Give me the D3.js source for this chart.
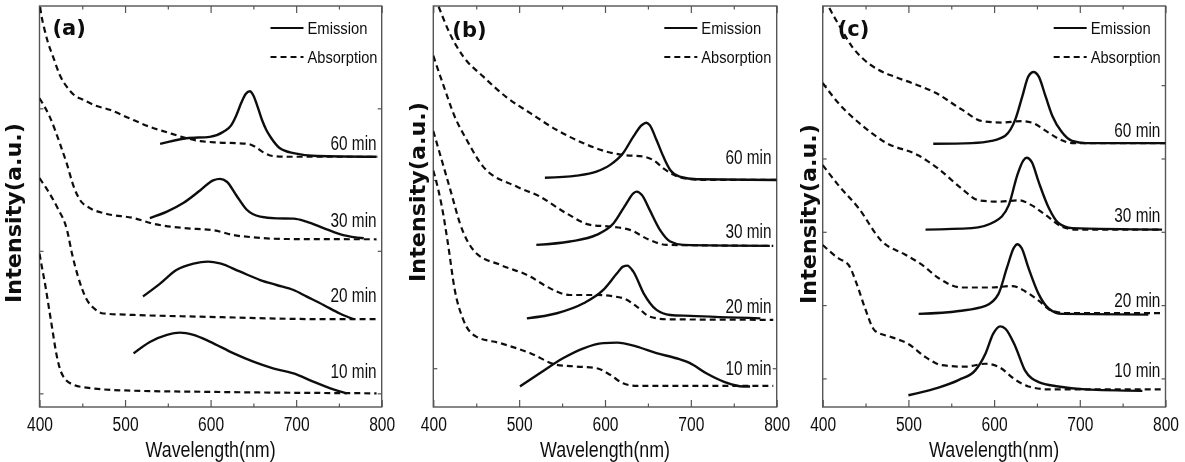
<!DOCTYPE html>
<html>
<head>
<meta charset="utf-8">
<script src="https://cdn.jsdelivr.net/npm/d3@7"></script>
<style>
  body { margin: 0; background: #fff; }
  svg { display: block; }
</style>
</head>
<body>
<div id="chart"></div>
<script>
'use strict';

// ---- data: [wavelength (nm), intensity (a.u.)] ----
const xTicks = [400, 500, 600, 700, 800];
const xMinorTicks = [450, 550, 650, 750];
const panelLetters = ['(a)', '(b)', '(c)'];
const timeLabels = ['10 min', '20 min', '30 min', '60 min'];
const legendLabels = ['Emission', 'Absorption'];

// panel (a)
const aYTicks = [0, 1, 2];
const aAbs10 = [[400,0.98],[403,0.88],[407,0.75],[411,0.60],[415,0.45],[419,0.30],[424,0.17],[430,0.10],[440,0.06],[455,0.04],[500,0.02],[600,0.01],[794,0]];
const aEm10 = [[510,0.28],[529,0.36],[549,0.41],[564,0.426],[580,0.41],[599,0.363],[627,0.28],[650,0.222],[673,0.175],[697,0.14],[720,0.082],[740,0.035],[759,0.0]];
const aAbs20 = [[400,1.51],[412,1.40],[422,1.29],[432,1.15],[438,0.98],[445,0.82],[455,0.66],[463,0.60],[475,0.56],[510,0.55],[588,0.538],[743,0.52],[794,0.52]];
const aEm20 = [[521,0.68],[541,0.77],[560,0.865],[580,0.91],[597,0.924],[611,0.912],[634,0.855],[658,0.795],[677,0.76],[697,0.725],[712,0.68],[732,0.62],[751,0.56],[767,0.52]];
const aAbs30 = [[400,2.07],[412,1.94],[424,1.75],[432,1.61],[440,1.45],[447,1.36],[459,1.30],[478,1.26],[510,1.23],[533,1.19],[568,1.16],[603,1.145],[627,1.11],[650,1.095],[685,1.083],[794,1.081]];
const aEm30 = [[529,1.23],[549,1.275],[568,1.335],[588,1.425],[603,1.495],[611,1.505],[619,1.485],[630,1.39],[642,1.29],[658,1.24],[677,1.228],[697,1.226],[712,1.205],[732,1.16],[755,1.11],[779,1.088]];
const aAbs60 = [[398,2.85],[402,2.66],[406,2.55],[410,2.46],[416,2.36],[424,2.23],[432,2.15],[441,2.09],[451,2.06],[465,2.02],[482,1.99],[505,1.93],[529,1.87],[550,1.83],[566,1.80],[588,1.77],[610,1.76],[630,1.755],[644,1.75],[652,1.73],[662,1.69],[673,1.665],[690,1.66],[720,1.66],[795,1.66]];
const aEm60 = [[541,1.75],[572,1.79],[599,1.80],[615,1.835],[624,1.88],[630,1.95],[636,2.04],[641,2.10],[646,2.12],[650,2.09],[655,2.01],[660,1.92],[665,1.85],[671,1.79],[681,1.72],[697,1.685],[724,1.665],[794,1.66]];
const aLabelY = [0.107, 0.64, 1.165, 1.71];

// panel (b)
const bYTicks = [0, 1];
const bAbs10 = [[400,1.05],[403,1.0],[410,0.858],[417,0.664],[425,0.416],[435,0.257],[450,0.168],[478,0.133],[513,0.08],[544,0.018],[567,0.009],[590,0.0],[606,-0.035],[621,-0.08],[637,-0.094],[796,-0.094]];
const bEm10 = [[501,-0.097],[524,-0.027],[551,0.053],[575,0.106],[598,0.133],[614,0.136],[637,0.115],[660,0.08],[683,0.053],[699,0.027],[718,-0.027],[738,-0.071],[761,-0.097],[769,-0.097]];
const bAbs20 = [[400,1.26],[412,1.071],[421,0.929],[431,0.77],[450,0.611],[478,0.549],[513,0.487],[532,0.434],[559,0.389],[590,0.389],[621,0.372],[637,0.327],[652,0.274],[672,0.26],[796,0.257]];
const bEm20 = [[509,0.265],[544,0.292],[575,0.345],[598,0.416],[614,0.504],[621,0.54],[626,0.545],[633,0.513],[645,0.398],[660,0.31],[676,0.283],[699,0.278],[781,0.265]];
const bAbs30 = [[400,1.66],[412,1.50],[425,1.336],[439,1.212],[458,1.071],[497,0.965],[524,0.912],[555,0.823],[583,0.761],[606,0.752],[629,0.735],[652,0.681],[672,0.655],[796,0.65]];
const bEm30 = [[520,0.655],[559,0.673],[590,0.708],[610,0.77],[625,0.876],[633,0.929],[637,0.938],[643,0.92],[652,0.841],[664,0.735],[676,0.673],[691,0.655],[792,0.65]];
const bAbs60 = [[398,2.02],[408,1.90],[419,1.78],[435,1.655],[458,1.55],[485,1.44],[513,1.355],[544,1.265],[575,1.195],[602,1.15],[621,1.133],[645,1.124],[656,1.106],[668,1.062],[680,1.027],[699,1.004],[720,1.0],[800,1.0]];
const bEm60 = [[530,1.012],[567,1.023],[590,1.044],[606,1.08],[621,1.142],[633,1.23],[643,1.292],[648,1.304],[652,1.292],[660,1.212],[668,1.124],[676,1.053],[687,1.018],[707,1.004],[800,1.0]];
const bLabelY = [-0.036, 0.294, 0.693, 1.083];

// panel (c)
const cYTicks = [0, 1, 2, 3, 4];
const cAbs10 = [[400,1.82],[418,1.64],[430,1.55],[440,1.28],[449,0.97],[461,0.65],[481,0.56],[500,0.47],[520,0.29],[539,0.18],[566,0.16],[590,0.2],[605,0.16],[625,-0.02],[640,-0.11],[664,-0.15],[796,-0.15]];
const cEm10 = [[500,-0.23],[531,-0.14],[559,-0.02],[578,0.11],[590,0.34],[599,0.61],[607,0.71],[613,0.68],[625,0.43],[636,0.11],[652,-0.05],[675,-0.11],[707,-0.15],[773,-0.17]];
const cAbs20 = [[400,2.91],[418,2.64],[442,2.32],[469,1.87],[496,1.69],[516,1.55],[535,1.37],[562,1.24],[597,1.24],[621,1.26],[636,1.19],[652,1.06],[668,0.92],[687,0.89],[796,0.89]];
const cEm20 = [[512,0.88],[559,0.92],[590,0.99],[605,1.15],[615,1.51],[623,1.78],[627,1.83],[632,1.78],[640,1.51],[652,1.15],[664,0.95],[679,0.88],[780,0.87]];
const cAbs30 = [[400,4.03],[418,3.76],[446,3.45],[473,3.22],[512,3.04],[535,2.86],[562,2.59],[582,2.43],[605,2.41],[629,2.43],[644,2.36],[660,2.23],[679,2.07],[695,2.03],[796,2.03]];
const cEm30 = [[520,2.03],[574,2.05],[601,2.14],[617,2.36],[627,2.77],[634,2.97],[638,3.01],[644,2.95],[652,2.68],[664,2.32],[675,2.12],[691,2.05],[796,2.03]];
const cAbs60 = [[398,5.3],[407,5.07],[420,4.80],[434,4.53],[448,4.35],[465,4.21],[485,4.11],[504,4.03],[531,3.9],[562,3.67],[586,3.51],[609,3.49],[632,3.51],[644,3.49],[660,3.38],[675,3.27],[691,3.21],[800,3.21]];
const cEm60 = [[529,3.2],[574,3.21],[597,3.24],[613,3.31],[625,3.54],[633,3.85],[640,4.12],[646,4.18],[652,4.12],[660,3.85],[668,3.58],[679,3.36],[691,3.24],[707,3.21],[800,3.21]];
const cLabelY = [0.018, 0.97, 2.13, 3.29];

// ---- layout ----
const W = 1185, H = 462,
    frameTop = 6, frameBottom = 407,
    condensed = '"Liberation Sans", Arial, sans-serif',
    boldFont = '"DejaVu Sans", Verdana, sans-serif',
    ink = '#111';

const panels = [
    { xRange: [39.5, 381.7], yDomain: [-0.096, 2.718], yTicks: aYTicks,
      abs: [aAbs10, aAbs20, aAbs30, aAbs60], em: [aEm10, aEm20, aEm30, aEm60], labelY: aLabelY,
      letterDx: 13, letterY: 35, titleDx: -18.5, titleY: 213 },
    { xRange: [433.3, 776.7], yDomain: [-0.206, 1.924], yTicks: bYTicks,
      abs: [bAbs10, bAbs20, bAbs30, bAbs60], em: [bEm10, bEm20, bEm30, bEm60], labelY: bLabelY,
      letterDx: 19, letterY: 37, titleDx: -8.5, titleY: 192 },
    { xRange: [822.7, 1165.5], yDomain: [-0.39, 5.08], yTicks: cYTicks,
      abs: [cAbs10, cAbs20, cAbs30, cAbs60], em: [cEm10, cEm20, cEm30, cEm60], labelY: cLabelY,
      letterDx: 15, letterY: 36, titleDx: -7, titleY: 214 }
];

const svg = d3.select('#chart').append('svg')
    .attr('width', W)
    .attr('height', H);

const defs = svg.append('defs');
defs.append('filter')
    .attr('id', 'soft')
    .attr('filterUnits', 'userSpaceOnUse')
    .attr('x', 0).attr('y', 0).attr('width', W).attr('height', H)
    .append('feGaussianBlur')
    .attr('stdDeviation', 0.45);

const root = svg.append('g').attr('filter', 'url(#soft)');

function innerTicks (axis, values, size) {
    return axis.tickValues(values).tickSizeInner(-size).tickSizeOuter(0).tickFormat('');
}

function stripDomain (g) {
    g.select('.domain').remove();
    g.selectAll('.tick line').attr('stroke', '#555').attr('stroke-width', 1.2);
}

panels.forEach(function (p, i) {
    var x = d3.scaleLinear().domain([400, 800]).range(p.xRange),
        y = d3.scaleLinear().domain(p.yDomain).range([frameBottom, frameTop]),
        left = p.xRange[0],
        right = p.xRange[1],
        g = root.append('g').attr('class', 'panel');

    defs.append('clipPath')
        .attr('id', 'clip' + i)
        .append('rect')
        .attr('x', left)
        .attr('y', frameTop)
        .attr('width', right - left)
        .attr('height', frameBottom - frameTop);

    // ticks on all four sides, pointing inwards
    g.append('g')
        .attr('transform', 'translate(0,' + frameBottom + ')')
        .call(d3.axisBottom(x).tickValues(xTicks).tickSizeInner(-7).tickSizeOuter(0)
            .tickPadding(10).tickFormat(d3.format('d')))
        .call(stripDomain)
        .call(function (a) {
            a.selectAll('text')
                .attr('fill', ink)
                .attr('font-family', condensed)
                .attr('font-size', 20)
                .attr('textLength', 26)
                .attr('lengthAdjust', 'spacingAndGlyphs');
        })
        .attr('font-size', null)
        .attr('font-family', null);

    g.append('g')
        .attr('transform', 'translate(0,' + frameBottom + ')')
        .call(innerTicks(d3.axisBottom(x), xMinorTicks, 3.5))
        .call(stripDomain);

    g.append('g')
        .attr('transform', 'translate(0,' + frameTop + ')')
        .call(innerTicks(d3.axisTop(x), xTicks, 7))
        .call(stripDomain);

    g.append('g')
        .attr('transform', 'translate(0,' + frameTop + ')')
        .call(innerTicks(d3.axisTop(x), xMinorTicks, 3.5))
        .call(stripDomain);

    g.append('g')
        .attr('transform', 'translate(' + left + ',0)')
        .call(innerTicks(d3.axisLeft(y), p.yTicks, 4))
        .call(stripDomain);

    g.append('g')
        .attr('transform', 'translate(' + right + ',0)')
        .call(innerTicks(d3.axisRight(y), p.yTicks, 4))
        .call(stripDomain);

    g.append('rect')
        .attr('x', left)
        .attr('y', frameTop)
        .attr('width', right - left)
        .attr('height', frameBottom - frameTop)
        .attr('fill', 'none')
        .attr('stroke', '#555')
        .attr('stroke-width', 1.4);

    // curves
    var line = d3.line()
        .x(function (d) { return x(d[0]); })
        .y(function (d) { return y(d[1]); })
        .curve(d3.curveMonotoneX);

    var curves = g.append('g').attr('clip-path', 'url(#clip' + i + ')');

    curves.selectAll('path.abs')
        .data(p.abs)
        .enter().append('path')
        .attr('class', 'abs')
        .attr('d', line)
        .attr('fill', 'none')
        .attr('stroke', ink)
        .attr('stroke-width', 2.2)
        .attr('stroke-dasharray', '6,4');

    curves.selectAll('path.em')
        .data(p.em)
        .enter().append('path')
        .attr('class', 'em')
        .attr('d', line)
        .attr('fill', 'none')
        .attr('stroke', ink)
        .attr('stroke-width', 2.4);

    // time labels
    g.selectAll('text.time')
        .data(timeLabels)
        .enter().append('text')
        .attr('class', 'time')
        .attr('x', x(794))
        .attr('y', function (d, k) { return y(p.labelY[k]); })
        .attr('text-anchor', 'end')
        .attr('font-family', condensed)
        .attr('font-size', 20)
        .attr('textLength', 46)
        .attr('lengthAdjust', 'spacingAndGlyphs')
        .attr('fill', ink)
        .text(function (d) { return d; });

    // panel letter
    g.append('text')
        .attr('x', left + p.letterDx)
        .attr('y', p.letterY)
        .attr('font-family', boldFont)
        .attr('font-weight', 'bold')
        .attr('font-size', 21)
        .attr('fill', ink)
        .text(panelLetters[i]);

    // legend
    var legend = g.append('g').attr('transform', 'translate(' + left + ',0)');
    [28, 57].forEach(function (ly, k) {
        legend.append('line')
            .attr('x1', 231).attr('x2', 264)
            .attr('y1', ly).attr('y2', ly)
            .attr('stroke', ink)
            .attr('stroke-width', 2.2)
            .attr('stroke-dasharray', k ? '6,4' : null);
        legend.append('text')
            .attr('x', 268)
            .attr('y', ly + 6)
            .attr('font-family', condensed)
            .attr('font-size', 17)
            .attr('textLength', k ? 70 : 60)
            .attr('lengthAdjust', 'spacingAndGlyphs')
            .attr('fill', ink)
            .text(legendLabels[k]);
    });

    // axis titles
    g.append('text')
        .attr('x', (left + right) / 2)
        .attr('y', 457)
        .attr('text-anchor', 'middle')
        .attr('font-family', condensed)
        .attr('font-size', 22)
        .attr('textLength', 130)
        .attr('lengthAdjust', 'spacingAndGlyphs')
        .attr('fill', ink)
        .text('Wavelength(nm)');

    g.append('text')
        .attr('transform', 'translate(' + (left + p.titleDx) + ',' + p.titleY + ') rotate(-90)')
        .attr('text-anchor', 'middle')
        .attr('font-family', boldFont)
        .attr('font-weight', 'bold')
        .attr('font-size', 21)
        .attr('textLength', 180)
        .attr('lengthAdjust', 'spacingAndGlyphs')
        .attr('fill', ink)
        .text('Intensity(a.u.)');
});
</script>
</body>
</html>
